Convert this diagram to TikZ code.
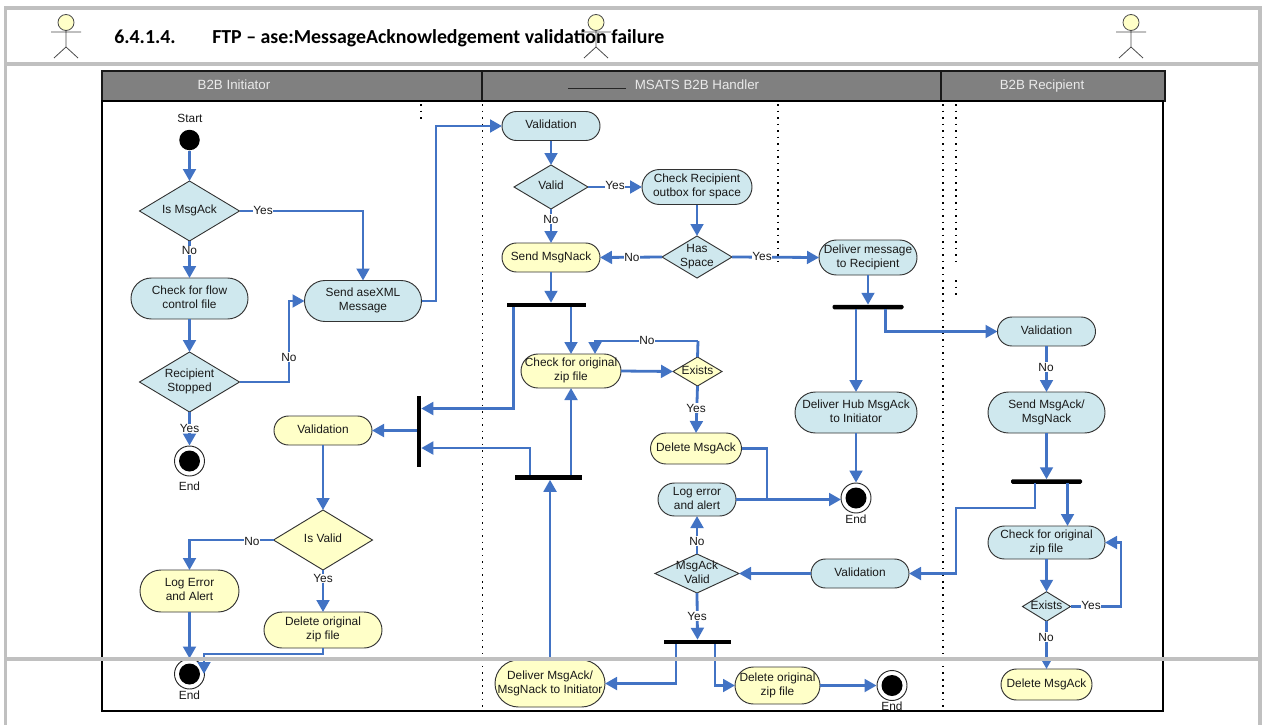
\documentclass[tikz,border=0pt]{standalone}
\usepackage{fontspec}
\setmainfont{Liberation Sans}
\newfontfamily\titlefont{Carlito}
\usetikzlibrary{arrows.meta,shapes.geometric,shapes.misc,calc}
\definecolor{cblue}{HTML}{CFE8EE}
\definecolor{cyel}{HTML}{FFFFC8}
\definecolor{conn}{HTML}{4273C4}
\definecolor{gframe}{HTML}{C0C0C0}
\newcommand\tx[1]{\vbox to 0pt{\vss\hbox to 0pt{\hss\begin{tabular}{@{}c@{}}#1\end{tabular}\hss}\vss}}
\tikzset{
  x=0.75pt,y=-0.75pt,
  sz/.style 2 args={minimum width=#1*0.75pt,minimum height=#2*0.75pt},
  base/.style={draw=black!80,line width=0.7pt,inner sep=0pt,outer sep=0pt,text=black!90,font=\fontsize{8.9}{10.5}\selectfont},
  pill/.style={base,rounded rectangle},
  dia/.style={base,diamond},
  pb/.style={pill,fill=cblue},
  py/.style={pill,fill=cyel},
  db/.style={dia,fill=cblue},
  dy/.style={dia,fill=cyel},
  bar/.style={fill=black,draw=none,inner sep=0pt,outer sep=0pt},
  startdot/.style={circle,fill=black,draw=none,inner sep=0pt,minimum size=20.5*0.75pt},
  endring/.style={circle,fill=white,draw=black!85,line width=0.7pt,inner sep=0pt,minimum size=30*0.75pt},
  lbl/.style={fill=white,inner sep=0.6pt,text=black!90,font=\fontsize{8.9}{10.5}\selectfont},
  plain/.style={inner sep=0pt,text=black!90,font=\fontsize{8.9}{10.5}\selectfont},
  flow/.style={draw=conn,line width=2.1pt,-{Triangle[length=9pt,width=9.5pt]}},
  flowline/.style={draw=conn,line width=2.1pt},
  dots/.style={draw=black,line width=1.1pt,dash pattern=on 1.2pt off 3.7pt},
  frame/.style={draw=gframe,line width=2.3pt},
  head/.style={inner sep=0pt,text height=7.5pt,text depth=2pt,text=white!92!black,font=\fontsize{10}{12}\selectfont},
  actorline/.style={draw=black!70,line width=0.6pt},
}
\newcommand\actor[1]{%
  \draw[actorline,fill=cyel] (#1,22.5) circle[radius=8];
  \draw[actorline] (#1,30.5) -- (#1,47) (#1-15,32) -- (#1+15,32) (#1-12,58) -- (#1,47) -- (#1+12,58);
}
\begin{document}
\begin{tikzpicture}
\useasboundingbox[fill=white] (0,0) rectangle (1262,724);
% swimlanes
\fill[fill=black!50] (102,71) rectangle (1165,101);
\draw[black!90,line width=1pt] (102,71) rectangle (1165,101);
\draw[black!90,line width=1pt] (482,71) -- (482,101) (941,71) -- (941,101);
\draw[black,line width=1.2pt] (102,101) rectangle (1163,711);
\node[head] (h1) at (234,85.5) {B2B Initiator};
\node[head] (h2) at (697,85.5) {MSATS B2B Handler};
\node[head] (h3) at (1042,85.5) {B2B Recipient};
\draw[black!85,line width=0.6pt] (568,88.5) -- (626,88.5);
% dotted lane lines
\draw[dots] (421,104) -- (421,123);
\draw[dots] (482.5,104) -- (482.5,709);
\draw[dots] (778,104) -- (778,262);
\draw[dots] (943,104) -- (943,709);
\draw[dots] (956,104) -- (956,262) (956,280) -- (956,299);
% actors
\actor{66}
\actor{596}
\actor{1131}
% title
\node[anchor=base west,inner sep=0pt,font=\titlefont\bfseries\fontsize{14.9}{18}\selectfont] (t1) at (114,43.5) {6.4.1.4.};
\node[anchor=base west,inner sep=0pt,font=\titlefont\bfseries\fontsize{14.9}{18}\selectfont] (t2) at (212,43.5) {FTP – ase:MessageAcknowledgement validation failure};
% initiator nodes
\node[plain] (lstart) at (190,118) {Start};
\node[startdot] (start) at (189.5,140) {};
\node[db,sz={100}{60}] (ismsg) at (189.5,211) {\tx{Is MsgAck}};
\node[pb,sz={117}{41}] (flowchk) at (189.5,298.5) {\tx{Check for flow\\control file}};
\node[pb,sz={117}{41}] (send) at (363,301) {\tx{Send aseXML\\Message}};
\node[db,sz={100}{60}] (recip) at (189.5,382) {\tx{Recipient\\Stopped}};
\node[endring] (end1) at (189.5,461) {};
\node[startdot,minimum size=21*0.75pt] (end1i) at (189.5,461) {};
\node[plain] (lend1) at (189.5,486) {End};
\node[py,sz={98}{29}] (val2) at (323,430.5) {\tx{Validation}};
\node[bar,sz={4.5}{71}] (vbar) at (419,431) {};
\node[dy,sz={99}{60}] (isvalid) at (323,540) {\tx{Is Valid}};
\node[py,sz={99}{42}] (logerr) at (189.5,591) {\tx{Log Error\\and Alert}};
\node[py,sz={118}{36}] (delzip) at (323,630) {\tx{Delete original\\zip file}};
\node[endring] (end2) at (189.5,674) {};
\node[startdot,minimum size=21*0.75pt] (end2i) at (189.5,674) {};
\node[plain] (lend2) at (189.5,695) {End};
% handler nodes
\node[pb,sz={98}{29}] (val1) at (551,126) {\tx{Validation}};
\node[db,sz={74}{44}] (valid) at (551,187) {\tx{Valid}};
\node[pb,sz={110}{35}] (chkout) at (697,187) {\tx{Check Recipient\\outbox for space}};
\node[db,sz={70}{42}] (hasspace) at (697,257) {\tx{Has\\Space}};
\node[py,sz={98}{29}] (nack) at (551,257.5) {\tx{Send MsgNack}};
\node[pb,sz={98}{35}] (deliver) at (868,257.5) {\tx{Deliver message\\to Recipient}};
\node[bar,sz={79}{4.5}] (bar1) at (546.5,305) {};
\node[bar,sz={71}{4.5},rounded corners=1pt] (bar2) at (868,307) {};
\node[py,sz={100}{34}] (chkzip) at (571,371) {\tx{Check for original\\zip file}};
\node[dy,sz={49}{29}] (exists) at (697.5,371.5) {\tx{Exists}};
\node[py,sz={91}{31}] (delack) at (696,448.5) {\tx{Delete MsgAck}};
\node[bar,sz={67}{4.5}] (bar3) at (548.5,477.5) {};
\node[pb,sz={122}{41}] (hub) at (856,412.5) {\tx{Deliver Hub MsgAck\\to Initiator}};
\node[endring] (end3) at (856,498) {};
\node[startdot,minimum size=21*0.75pt] (end3i) at (856,498) {};
\node[plain] (lend3) at (856,519) {End};
\node[pb,sz={78}{33}] (logal) at (697,499.5) {\tx{Log error\\and alert}};
\node[db,sz={84}{39}] (ackvalid) at (697,573.5) {\tx{MsgAck\\Valid}};
\node[pb,sz={98}{29}] (val3) at (860,573.5) {\tx{Validation}};
\node[bar,sz={67}{4.5}] (bar4) at (697.5,642) {};
\node[py,sz={110}{47}] (delivack) at (550,683.5) {\tx{Deliver MsgAck/\\MsgNack to Initiator}};
\node[py,sz={85}{37}] (delzip2) at (777.5,685.5) {\tx{Delete original\\zip file}};
\node[endring] (end4) at (892,685.5) {};
\node[startdot,minimum size=21*0.75pt] (end4i) at (892,685.5) {};
\node[plain] (lend4) at (892,706.5) {End};
% recipient nodes
\node[pb,sz={98}{29}] (val4) at (1046.5,331.5) {\tx{Validation}};
\node[pb,sz={117}{41}] (sendack) at (1046.5,412.5) {\tx{Send MsgAck/\\MsgNack}};
\node[bar,sz={71}{4.5},rounded corners=1pt] (bar5) at (1046.5,481.5) {};
\node[pb,sz={117}{33}] (chkzip2) at (1046.5,542.5) {\tx{Check for original\\zip file}};
\node[db,sz={48}{29.5}] (exists2) at (1046.5,606.5) {\tx{Exists}};
\node[py,sz={91}{31}] (delack2) at (1046.5,684.5) {\tx{Delete MsgAck}};
% bend points
\coordinate (r1) at (289,382);
\coordinate (r2) at (289,301);
\coordinate (s1) at (436,301);
\coordinate (s2) at (436,126);
\coordinate (b1a) at (513.5,307);
\coordinate (b1b) at (513.5,408.5);
\coordinate (b3a) at (530,475);
\coordinate (b3b) at (530,448);
\coordinate (x1) at (698,341);
\coordinate (x2) at (595,341);
\coordinate (x3) at (595,354);
\coordinate (d1) at (767,448.5);
\coordinate (d2) at (767,499.5);
\coordinate (b2a) at (856,309);
\coordinate (b2b) at (885.5,309);
\coordinate (b2c) at (885.5,331.5);
\coordinate (b5a) at (1035,483);
\coordinate (b5b) at (1035,508);
\coordinate (b5c) at (956,508);
\coordinate (b5d) at (956,573.5);
\coordinate (b5e) at (1067.5,483);
\coordinate (b5f) at (1067.5,526);
\coordinate (b4a) at (676,644);
\coordinate (b4b) at (676,683.5);
\coordinate (b4c) at (715,644);
\coordinate (b4d) at (715,685.5);
\coordinate (y1) at (1121,606.5);
\coordinate (y2) at (1121,542.5);
\coordinate (e1) at (323,654);
\coordinate (e2) at (204,654);
\coordinate (e3) at (204,674);
\coordinate (e4) at (841,499.5);
% connectors
\draw[flow] (start) -- (ismsg.north);
\draw[flow] (ismsg.south) -- (flowchk.north -| ismsg.south);
\draw[flow] (ismsg.east) -| (send.north);
\draw[flow] (flowchk.south -| recip.north) -- (recip.north);
\draw[flow] (recip.east) -- (r1) -- (r2) -- (send.west);
\draw[flow] (recip.south) -- (end1.north);
\draw[flow] (send.east) -- (s1) -- (s2) -- (val1.west);
\draw[flow] (vbar.west |- val2.east) -- (val2.east);
\draw[flow] (val2.south) -- (isvalid.north);
\draw[flow] (isvalid.west) -| (logerr.north);
\draw[flow] (isvalid.south) -- (delzip.north);
\draw[flow] (logerr.south) -- (end2.north);
\draw[flow] (delzip.south) -- (e1) -- (e2) -- (e3);
\draw[flow] (val1.south) -- (valid.north);
\draw[flow] (valid.east) -- (chkout.west);
\draw[flow] (valid.south) -- (nack.north);
\draw[flow] (chkout.south) -- (hasspace.north);
\draw[flow] (hasspace.west) -- (nack.east);
\draw[flow] (hasspace.east) -- (deliver.west);
\draw[flow] (nack.south) -- (nack.south |- bar1.north);
\draw[flow] (deliver.south) -- (bar2.north);
\draw[flow] (b1a) -- (b1b) -- (b1b -| vbar.east);
\draw[flow] (chkzip.north |- bar1.south) -- (chkzip.north);
\draw[flow] (b3a) -- (b3b) -- (b3b -| vbar.east);
\draw[flow] (chkzip.south |- bar3.north) -- (chkzip.south);
\draw[flow] (x1) -- (x2) -- (x3);
\draw[flowline] (exists.north) -- (x1);
\draw[flow] (chkzip.east) -- (exists.west);
\draw[flow] (exists.south) -- (delack.north);
\draw[flowline] (delack.east) -- (d1) -- (d2);
\draw[flow] (logal.east) -- (e4);
\draw[flow] (delivack.north) -- (delivack.north |- bar3.south);
\draw[flow] (b2a) -- (hub.north -| b2a);
\draw[flow] (b2b) -- (b2c) -- (val4.west);
\draw[flow] (hub.south) -- (end3.north);
\draw[flow] (val4.south) -- (sendack.north);
\draw[flow] (sendack.south) -- (bar5.north);
\draw[flow] (b5a) -- (b5b) -- (b5c) -- (b5d) -- (val3.east);
\draw[flow] (b5e) -- (b5f);
\draw[flow] (val3.west) -- (ackvalid.east);
\draw[flow] (ackvalid.north) -- (logal.south);
\draw[flow] (ackvalid.south) -- (bar4.north);
\draw[flow] (b4a) -- (b4b) -- (delivack.east);
\draw[flow] (b4c) -- (b4d) -- (delzip2.west);
\draw[flow] (delzip2.east) -- (end4.west);
\draw[flow] (chkzip2.south) -- (exists2.north);
\draw[flow] (exists2.east) -- (y1) -- (y2) -- (chkzip2.east);
\draw[flow] (exists2.south) -- (delack2.north);
% connector labels
\node[lbl] (n1) at (263,210) {Yes};
\node[lbl] (n2) at (189.5,250.5) {No};
\node[lbl] (n3) at (289,357) {No};
\node[lbl] (n4) at (189.5,428.5) {Yes};
\node[lbl] (n5) at (252,541) {No};
\node[lbl] (n6) at (323,578.5) {Yes};
\node[lbl] (n7) at (551,219) {No};
\node[lbl] (n8) at (615,185) {Yes};
\node[lbl] (n9) at (632,257) {No};
\node[lbl] (n10) at (762,256) {Yes};
\node[lbl] (n11) at (647,340.5) {No};
\node[lbl] (n12) at (696,408) {Yes};
\node[lbl] (n13) at (697,541) {No};
\node[lbl] (n14) at (697,616) {Yes};
\node[lbl] (n15) at (1046,367) {No};
\node[lbl] (n16) at (1091,605) {Yes};
\node[lbl] (n17) at (1046,637) {No};
% page frame lines, over the diagram
\draw[frame] (5.6,726) -- (5.6,8) -- (1260,8) -- (1260,726);
\draw[frame] (5.6,64) -- (1260,64);
\draw[frame] (5.6,659) -- (1260,659);
\end{tikzpicture}
\end{document}
